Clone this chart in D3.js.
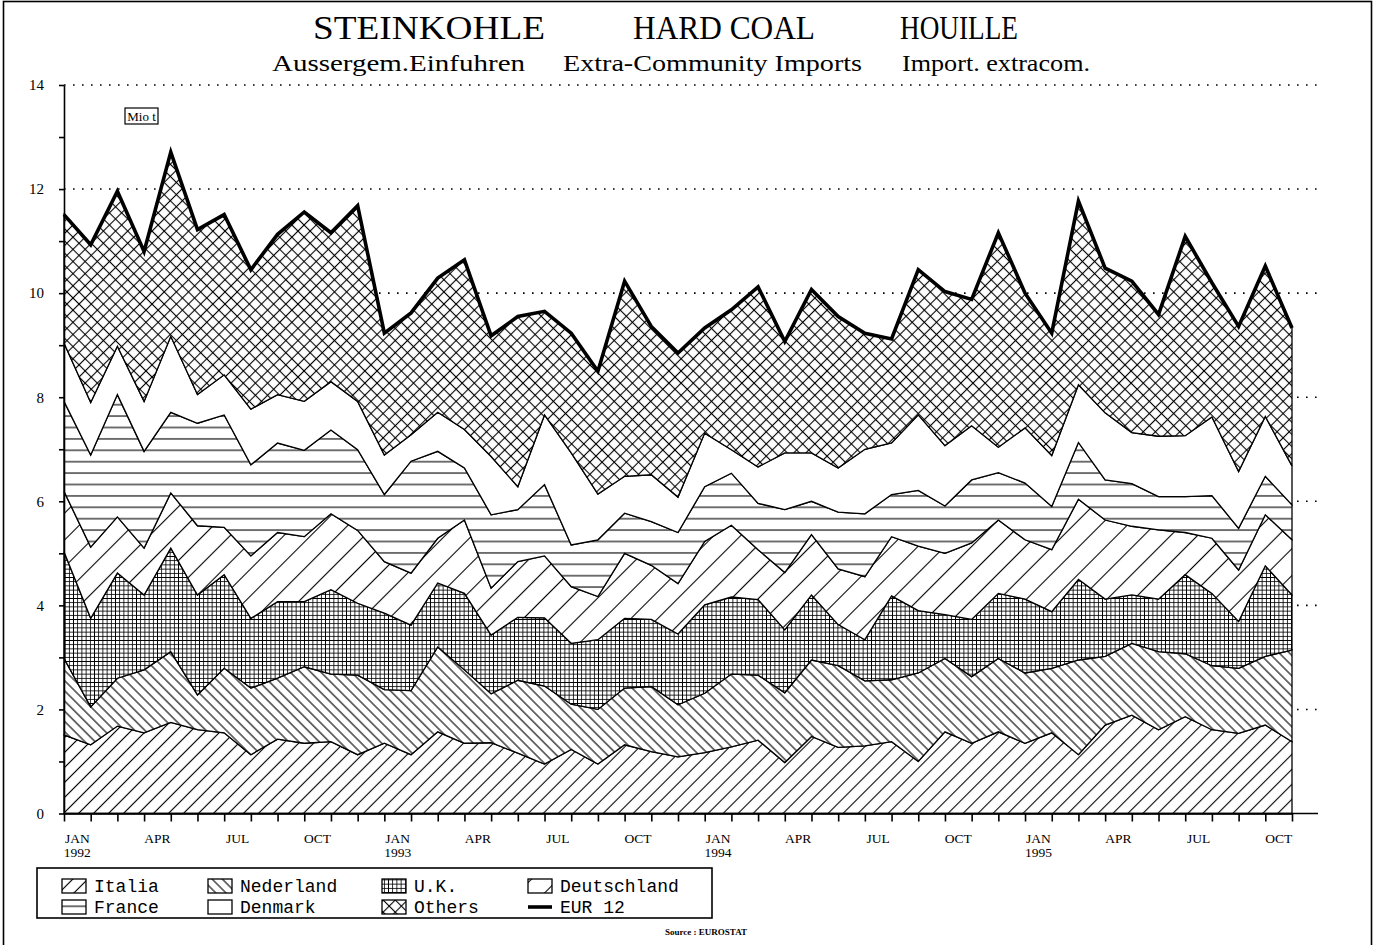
<!DOCTYPE html>
<html><head><meta charset="utf-8">
<script src="https://cdn.jsdelivr.net/npm/d3@7/dist/d3.min.js"></script>
<style>body{margin:0;background:#fff}svg{display:block}</style>
</head><body>
<svg id="chart" width="1376" height="945"></svg>
<script>
// ---- data (Mio t), Jan 1992 .. Nov 1995 ----
const periods = ["1992-01","1992-02","1992-03","1992-04","1992-05","1992-06","1992-07","1992-08","1992-09","1992-10","1992-11","1992-12",
"1993-01","1993-02","1993-03","1993-04","1993-05","1993-06","1993-07","1993-08","1993-09","1993-10","1993-11","1993-12",
"1994-01","1994-02","1994-03","1994-04","1994-05","1994-06","1994-07","1994-08","1994-09","1994-10","1994-11","1994-12",
"1995-01","1995-02","1995-03","1995-04","1995-05","1995-06","1995-07","1995-08","1995-09","1995-10","1995-11"];
const italia = [1.51,1.32,1.68,1.55,1.75,1.61,1.55,1.13,1.43,1.35,1.38,1.13,1.35,1.13,1.57,1.35,1.36,1.16,0.95,1.23,0.95,1.32,1.19,1.09,1.17,1.28,1.41,0.98,1.48,1.27,1.30,1.38,1.00,1.57,1.35,1.57,1.35,1.55,1.13,1.70,1.89,1.61,1.86,1.61,1.54,1.70,1.38];
const nederland = [1.47,0.73,0.92,1.21,1.36,0.67,1.24,1.28,1.17,1.47,1.30,1.53,1.03,1.23,1.63,1.41,0.94,1.40,1.50,0.87,1.05,1.09,1.25,1.00,1.14,1.40,1.25,1.34,1.47,1.57,1.25,1.19,1.70,1.41,1.28,1.41,1.35,1.24,1.82,1.32,1.38,1.50,1.21,1.23,1.25,1.32,1.76];
const uk = [2.05,1.70,2.02,1.44,1.99,1.92,1.80,1.34,1.47,1.25,1.62,1.38,1.47,1.26,1.23,1.47,1.13,1.21,1.31,1.17,1.34,1.34,1.29,1.36,1.70,1.48,1.45,1.21,1.25,0.79,0.79,1.61,1.20,0.84,1.10,1.25,1.42,1.09,1.55,1.10,0.93,1.01,1.52,1.39,0.90,1.74,1.06];
const deutschland = [1.16,1.37,1.08,0.90,1.06,1.33,0.91,1.20,1.33,1.25,1.46,1.40,0.99,1.00,0.86,1.41,0.90,1.07,1.19,1.09,0.83,1.25,1.04,0.97,1.22,1.38,0.96,1.10,1.16,1.07,1.21,1.14,1.24,1.18,1.47,1.41,1.14,1.19,1.54,1.52,1.32,1.33,0.81,1.06,0.99,0.98,1.06];
const france = [1.73,1.77,2.35,1.86,1.55,1.97,2.16,1.75,1.72,1.66,1.61,1.55,1.29,2.15,1.67,1.00,1.41,1.00,1.37,0.80,1.09,0.77,0.84,0.98,1.05,1.00,0.89,1.21,0.64,1.09,1.21,0.81,1.07,0.91,1.21,0.91,1.09,0.83,1.09,0.77,0.82,0.64,0.69,0.82,0.80,0.74,0.67];
const denmark = [1.12,1.01,0.93,0.96,1.46,0.55,0.77,1.07,0.93,0.94,0.93,0.93,0.76,0.51,0.75,0.74,1.12,0.44,1.34,1.77,0.88,0.71,0.90,0.68,1.03,0.45,0.70,1.09,0.93,0.85,1.24,0.99,1.45,1.16,1.04,0.49,1.06,0.98,1.11,1.29,0.98,1.16,1.17,1.51,1.09,1.15,0.75];
const others = [2.47,3.03,2.98,2.88,3.54,3.17,3.08,2.68,3.08,3.64,2.86,3.76,2.34,2.34,2.58,3.26,2.32,3.27,1.99,2.30,2.36,3.75,2.85,2.77,2.02,2.69,3.46,2.14,3.14,2.91,2.23,2.00,2.79,2.96,2.43,4.12,2.59,2.35,3.53,2.78,2.91,2.34,3.83,2.58,2.79,2.89,2.65];
const eur12 = [11.51,10.93,11.96,10.80,12.71,11.22,11.51,10.45,11.13,11.56,11.16,11.68,9.23,9.62,10.29,10.64,9.18,9.55,9.65,9.23,8.50,10.23,9.36,8.85,9.33,9.68,10.12,9.07,10.07,9.55,9.23,9.12,10.45,10.03,9.88,11.16,10.00,9.23,11.77,10.48,10.23,9.59,11.09,10.20,9.36,10.52,9.33];

const seriesNames = ["Italia","Nederland","U.K.","Deutschland","France","Denmark","Others"];
const seriesValues = [italia,nederland,uk,deutschland,france,denmark,others];
const tickMonthIndex = [0,3,6,9,12,15,18,21,24,27,30,33,36,39,42,45];
const tickMonthLabels = ["JAN","APR","JUL","OCT","JAN","APR","JUL","OCT","JAN","APR","JUL","OCT","JAN","APR","JUL","OCT"];
const tickYearLabels = ["1992","","","","1993","","","","1994","","","","1995","","",""];
const yTickValues = [0,1,2,3,4,5,6,7,8,9,10,11,12,13,14];
const yGridValues = [2,4,6,8,10,12,14];
const titleTexts = ["STEINKOHLE","HARD COAL","HOUILLE"];
const subtitleTexts = ["Aussergem.Einfuhren","Extra-Community Imports","Import. extracom."];
const legendRows = [["Italia","Nederland","U.K.","Deutschland"],["France","Denmark","Others","EUR 12"]];

// ---- build table ----
const rows = periods.map((p,i)=>{const r={i:i,period:p};seriesNames.forEach((n,k)=>r[n]=seriesValues[k][i]);r.total=eur12[i];return r;});

const svg = d3.select("#chart");
svg.append("rect").attr("width",1376).attr("height",945).attr("fill","#fff");
const serif = "'Liberation Serif','Times New Roman',serif";
const mono = "'Liberation Mono','Courier New',monospace";

const x = d3.scaleLinear().domain([0,46]).range([64,1292]);
const y = d3.scaleLinear().domain([0,14]).range([813.5,85]);

// ---- patterns ----
const defs = svg.append("defs");
function hatch(id, s, angle, w){
  const p = defs.append("pattern").attr("id",id).attr("patternUnits","userSpaceOnUse")
    .attr("width",s).attr("height",s).attr("patternTransform",`rotate(${angle})`);
  p.append("rect").attr("width",s).attr("height",s).attr("fill","#fff");
  p.append("line").attr("x1",s/2).attr("y1",-1).attr("x2",s/2).attr("y2",s+1).attr("stroke","#000").attr("stroke-width",w);
}
function grid(id, s, angle, w){
  const p = defs.append("pattern").attr("id",id).attr("patternUnits","userSpaceOnUse")
    .attr("width",s).attr("height",s).attr("patternTransform",`rotate(${angle})`);
  p.append("rect").attr("width",s).attr("height",s).attr("fill","#fff");
  p.append("line").attr("x1",s/2).attr("y1",-1).attr("x2",s/2).attr("y2",s+1).attr("stroke","#000").attr("stroke-width",w);
  p.append("line").attr("x1",-1).attr("y1",s/2).attr("x2",s+1).attr("y2",s/2).attr("stroke","#000").attr("stroke-width",w);
}
hatch("p-italia",10.6,45,1.1);
hatch("p-nederland",7.2,-45,1.1);
grid("p-uk",4.2,0,0.85);
hatch("p-deutschland",19,45,1.1);
hatch("p-france",11.4,90,1.1);
grid("p-others",8.6,45,1.1);
const fills = {"Italia":"url(#p-italia)","Nederland":"url(#p-nederland)","U.K.":"url(#p-uk)","Deutschland":"url(#p-deutschland)","France":"url(#p-france)","Denmark":"#fff","Others":"url(#p-others)"};

// ---- frame ----
svg.append("rect").attr("x",3.5).attr("y",1.5).attr("width",1368).attr("height",960)
  .attr("fill","none").attr("stroke","#000").attr("stroke-width",1.6);

// ---- grid (dotted) ----
svg.append("g").selectAll("line").data(yGridValues).join("line")
  .attr("x1",x(0)).attr("x2",x(46)+26).attr("y1",d=>y(d)).attr("y2",d=>y(d))
  .attr("stroke","#000").attr("stroke-width",1.6).attr("stroke-dasharray","1.6,7.4");

// ---- stacked areas ----
const stack = d3.stack().keys(seriesNames)(rows);
const area = d3.area().x(d=>x(d.data.i)).y0(d=>y(d[0])).y1(d=>y(d[1]));
svg.append("g").selectAll("path").data(stack).join("path")
  .attr("d",area).attr("fill",d=>fills[d.key]).attr("stroke","#000").attr("stroke-width",1.3)
  .attr("stroke-linejoin","miter");

// ---- EUR 12 line ----
const line = d3.line().x(d=>x(d.i)).y(d=>y(d.total));
svg.append("path").datum(rows).attr("d",line).attr("fill","none").attr("stroke","#000")
  .attr("stroke-width",3.6).attr("stroke-linejoin","miter");

// ---- axes ----
const yAxis = d3.axisLeft(y).tickValues(yTickValues).tickSize(5).tickSizeOuter(0).tickPadding(15)
  .tickFormat(d=> d%2===0 ? d : "");
const gy = svg.append("g").attr("transform",`translate(${x(0)},0)`).call(yAxis);
gy.selectAll("text").attr("font-family",serif).attr("font-size",15).attr("fill","#000");
gy.selectAll("line,path").attr("stroke","#000").attr("stroke-width",1.6);

const xAxis = d3.axisBottom(x).tickValues(d3.range(0,47)).tickSize(8).tickSizeOuter(0).tickFormat("");
const gx = svg.append("g").attr("transform",`translate(0,${y(0)})`).call(xAxis);
gx.selectAll("line,path").attr("stroke","#000").attr("stroke-width",1.6);
svg.append("line").attr("x1",x(0)).attr("x2",x(46)+26).attr("y1",y(0)).attr("y2",y(0)).attr("stroke","#000").attr("stroke-width",1.6);

const xl = svg.append("g").attr("font-family",serif).attr("font-size",13.5).attr("text-anchor","middle");
xl.selectAll("text.m").data(tickMonthIndex).join("text").attr("class","m")
  .attr("x",d=>x(d+0.5)).attr("y",y(0)+29).text((d,k)=>tickMonthLabels[k]);
xl.selectAll("text.yr").data(tickMonthIndex).join("text").attr("class","yr")
  .attr("x",d=>x(d+0.5)).attr("y",y(0)+43).text((d,k)=>tickYearLabels[k]);

// ---- unit box ----
svg.append("rect").attr("x",125).attr("y",108).attr("width",33).attr("height",16).attr("fill","#fff").attr("stroke","#000").attr("stroke-width",1.2);
svg.append("text").attr("x",141.5).attr("y",121).attr("text-anchor","middle").attr("font-family",serif).attr("font-size",13).text("Mio t");

// ---- titles ----
const titleX = [313,633,900], titleW = [232,182,118];
svg.append("g").selectAll("text").data(titleTexts).join("text")
  .attr("x",(d,k)=>titleX[k]).attr("y",39).attr("font-family",serif).attr("font-size",34)
  .attr("textLength",(d,k)=>titleW[k]).attr("lengthAdjust","spacingAndGlyphs").text(d=>d);
const subX = [272,563,902], subW = [253,299,188];
svg.append("g").selectAll("text").data(subtitleTexts).join("text")
  .attr("x",(d,k)=>subX[k]).attr("y",71).attr("font-family",serif).attr("font-size",24)
  .attr("textLength",(d,k)=>subW[k]).attr("lengthAdjust","spacingAndGlyphs").text(d=>d);

// ---- legend ----
svg.append("rect").attr("x",37).attr("y",868).attr("width",675).attr("height",50).attr("fill","#fff").attr("stroke","#000").attr("stroke-width",1.6);
const colX = [62,208,382,528];
const rowY = [886,907];
legendRows.forEach((r,ri)=>{
  r.forEach((name,ci)=>{
    const g = svg.append("g");
    if(name==="EUR 12"){
      g.append("line").attr("x1",colX[ci]).attr("x2",colX[ci]+24).attr("y1",rowY[ri]).attr("y2",rowY[ri]).attr("stroke","#000").attr("stroke-width",3.6);
    } else {
      g.append("rect").attr("x",colX[ci]).attr("y",rowY[ri]-7).attr("width",24).attr("height",14)
        .attr("fill",fills[name]).attr("stroke","#000").attr("stroke-width",1.3);
    }
    g.append("text").attr("x",colX[ci]+32).attr("y",rowY[ri]+6).attr("font-family",mono).attr("font-size",18).text(name);
  });
});

svg.append("text").attr("x",706).attr("y",935).attr("text-anchor","middle").attr("font-family",serif)
  .attr("font-size",9).attr("font-weight","bold").text("Source : EUROSTAT");
</script>
</body></html>
